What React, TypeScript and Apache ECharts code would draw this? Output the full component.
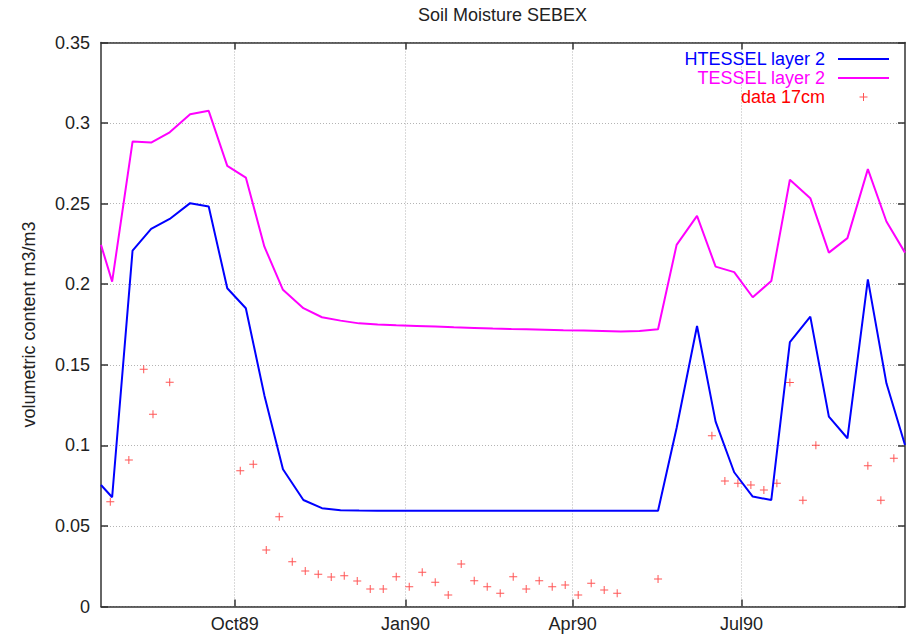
import React, { useEffect, useRef } from "react";
import * as echarts from "echarts";

const lineDates = [
  "1989-07-21", "1989-07-27", "1989-08-07", "1989-08-17", "1989-08-27",
  "1989-09-07", "1989-09-17", "1989-09-27", "1989-10-07", "1989-10-17", "1989-10-27",
  "1989-11-07", "1989-11-17", "1989-11-27", "1989-12-07", "1989-12-17", "1989-12-27",
  "1990-01-07", "1990-01-17", "1990-01-27", "1990-02-07", "1990-02-17", "1990-02-27",
  "1990-03-07", "1990-03-17", "1990-03-27", "1990-04-07", "1990-04-17", "1990-04-27",
  "1990-05-07", "1990-05-17", "1990-05-27", "1990-06-07", "1990-06-17", "1990-06-27",
  "1990-07-07", "1990-07-17", "1990-07-27", "1990-08-07", "1990-08-17", "1990-08-27",
  "1990-09-07", "1990-09-17", "1990-09-27",
];

const htesselLayer2 = [
  0.0754, 0.0678, 0.2209, 0.2343, 0.2405,
  0.2503, 0.2482, 0.1975, 0.1851, 0.131, 0.0852,
  0.0661, 0.061, 0.0597, 0.0595, 0.0594, 0.0594,
  0.0594, 0.0594, 0.0594, 0.0594, 0.0594, 0.0594,
  0.0594, 0.0594, 0.0594, 0.0594, 0.0594, 0.0594,
  0.0594, 0.0594, 0.1108, 0.1741, 0.1147, 0.0833,
  0.0682, 0.0661, 0.164, 0.1799, 0.1178, 0.1044,
  0.203, 0.1385, 0.1002,
];

const tesselLayer2 = [
  0.2244, 0.2016, 0.2885, 0.2879, 0.2943,
  0.3055, 0.3076, 0.2734, 0.2662, 0.2233, 0.1965,
  0.1851, 0.1795, 0.1774, 0.1757, 0.175, 0.1745,
  0.1741, 0.1737, 0.1733, 0.1729, 0.1725, 0.1722,
  0.172, 0.1717, 0.1714, 0.1712, 0.171, 0.1707,
  0.1709, 0.172, 0.2244, 0.2424, 0.2109, 0.2075,
  0.1919, 0.202, 0.2648, 0.2534, 0.2196, 0.2286,
  0.2714, 0.2389, 0.2196,
];

const obsDates = [
  "1989-07-26", "1989-08-05", "1989-08-13", "1989-08-18", "1989-08-27",
  "1989-10-04", "1989-10-11", "1989-10-18", "1989-10-25", "1989-11-01",
  "1989-11-08", "1989-11-15", "1989-11-22", "1989-11-29", "1989-12-06",
  "1989-12-13", "1989-12-20", "1989-12-27", "1990-01-03", "1990-01-10",
  "1990-01-17", "1990-01-24", "1990-01-31", "1990-02-07", "1990-02-14",
  "1990-02-21", "1990-02-28", "1990-03-07", "1990-03-14", "1990-03-21",
  "1990-03-28", "1990-04-04", "1990-04-11", "1990-04-18", "1990-04-25",
  "1990-05-17", "1990-06-15", "1990-06-22", "1990-06-29", "1990-07-06",
  "1990-07-13", "1990-07-20", "1990-07-27", "1990-08-03", "1990-08-10",
  "1990-09-07", "1990-09-14", "1990-09-21",
];

const obsData17cm = [
  0.065, 0.0909, 0.1472, 0.1193, 0.1392,
  0.0843, 0.0883, 0.0351, 0.0557, 0.0278,
  0.022, 0.02, 0.0183, 0.0191, 0.0158,
  0.0109, 0.0109, 0.0185, 0.0123, 0.0212,
  0.015, 0.0071, 0.0264, 0.016, 0.0123,
  0.0082, 0.0185, 0.0109, 0.016, 0.0123,
  0.0133, 0.0071, 0.0144, 0.0102, 0.0082,
  0.0171, 0.106, 0.0779, 0.0765, 0.0754,
  0.0723, 0.0765, 0.139, 0.0659, 0.1,
  0.0874, 0.0659, 0.092,
];

const xTickDates = ["1989-10-01", "1990-01-01", "1990-04-01", "1990-07-01"];
const xTickLabels = ["Oct89", "Jan90", "Apr90", "Jul90"];
const xRange = ["1989-07-21", "1990-09-27"];

const seriesNames = ["HTESSEL layer 2", "TESSEL layer 2", "data 17cm"];
const seriesColors = ["#0000ff", "#ff00ff", "#ff0000"];

function toTime(s: string): number {
  const [y, m, d] = s.split("-").map(Number);
  return Date.UTC(y, m - 1, d);
}

const FONT = "'Liberation Sans', Arial, Helvetica, sans-serif";
const TEXT = "#222";
const AXIS = "#333";
const PLUS = "path://M3.5,0H4.5V3.5H8V4.5H4.5V8H3.5V4.5H0V3.5H3.5Z";
const LINE_ICON = "path://M0,0H51V2H0Z";

export default function App() {
  const ref = useRef<HTMLDivElement>(null);

  useEffect(() => {
    document.body.style.margin = "0";
    if (!ref.current) return;
    const chart = echarts.init(ref.current, null, { renderer: "svg" });
    const tickTimes = xTickDates.map(toTime);
    const gridLine = { show: true, lineStyle: { color: "#b4b4b4", width: 1, type: [1, 2] as any } };
    const axisLine = { show: true, onZero: false, lineStyle: { color: AXIS, width: 1.5 } };
    const tick = { show: true, inside: true, length: 7, lineStyle: { color: AXIS, width: 1.5 } };

    const xBase = {
      type: "value" as const,
      min: toTime(xRange[0]),
      max: toTime(xRange[1]),
      axisLine,
    };
    const yBase = {
      type: "value" as const,
      min: 0,
      max: 0.35,
      interval: 0.05,
      axisLine,
    };

    chart.setOption({
      animation: false,
      textStyle: { fontFamily: FONT },
      title: {
        text: "Soil Moisture SEBEX",
        left: 418,
        top: 6,
        padding: 0,
        textStyle: { fontSize: 18, fontWeight: "normal", color: TEXT, fontFamily: FONT },
      },
      grid: { left: 101, right: 1, top: 42.5, bottom: 30.5, containLabel: false },
      legend: {
        orient: "vertical",
        align: "right",
        right: 17,
        top: 50,
        itemWidth: 51,
        itemHeight: 8,
        itemGap: 1,
        padding: 0,
        textStyle: { fontSize: 18, lineHeight: 18, fontFamily: FONT, padding: [0, 8, 0, 0] },
        data: seriesNames.map((n, i) => ({
          name: n,
          icon: i < 2 ? LINE_ICON : PLUS,
          itemStyle: { color: i < 2 ? seriesColors[i] : "#ff2a2a" },
          textStyle: { color: seriesColors[i] },
        })),
      },
      xAxis: [
        {
          ...xBase,
          position: "bottom",
          axisTick: { ...tick, customValues: tickTimes },
          splitLine: gridLine,
          axisLabel: {
            show: true,
            customValues: tickTimes,
            margin: 8,
            fontSize: 18,
            color: TEXT,
            fontFamily: FONT,
            hideOverlap: false,
            formatter: (v: number) => {
              const i = tickTimes.indexOf(v);
              return i >= 0 ? xTickLabels[i] : "";
            },
          },
        },
        {
          ...xBase,
          position: "top",
          axisTick: { ...tick, customValues: tickTimes },
          splitLine: { show: false },
          axisLabel: { show: false },
        },
      ],
      yAxis: [
        {
          ...yBase,
          position: "left",
          name: "volumetric content m3/m3",
          nameLocation: "middle",
          nameRotate: 90,
          nameGap: 63,
          nameTextStyle: { fontSize: 18, color: TEXT, fontFamily: FONT },
          axisTick: tick,
          splitLine: gridLine,
          axisLabel: { margin: 11, fontSize: 18, color: TEXT, fontFamily: FONT },
        },
        {
          ...yBase,
          position: "right",
          axisTick: tick,
          splitLine: { show: false },
          axisLabel: { show: false },
        },
      ],
      series: [
        {
          name: seriesNames[0],
          type: "line",
          symbol: "none",
          showSymbol: false,
          color: seriesColors[0],
          lineStyle: { color: seriesColors[0], width: 2 },
          data: lineDates.map((d, i) => [toTime(d), htesselLayer2[i]]),
        },
        {
          name: seriesNames[1],
          type: "line",
          symbol: "none",
          showSymbol: false,
          color: seriesColors[1],
          lineStyle: { color: seriesColors[1], width: 2 },
          data: lineDates.map((d, i) => [toTime(d), tesselLayer2[i]]),
        },
        {
          name: seriesNames[2],
          type: "scatter",
          symbol: PLUS,
          symbolSize: 8,
          itemStyle: { color: "#ff2a2a" },
          data: obsDates.map((d, i) => [toTime(d), obsData17cm[i]]),
        },
      ],
    });
    return () => chart.dispose();
  }, []);

  return <div ref={ref} style={{ width: 906, height: 637 }} />;
}
